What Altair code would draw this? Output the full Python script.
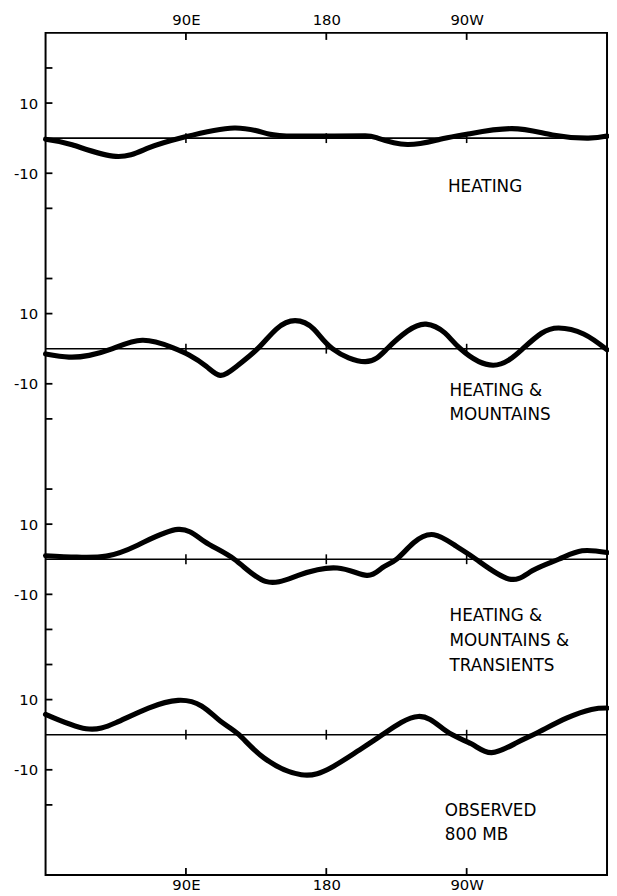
import altair as alt
import pandas as pd

# ---- data ----
panel_names = ["HEATING", "HEATING & MOUNTAINS", "HEATING & MOUNTAINS & TRANSIENTS", "OBSERVED 800 MB"]
offsets = [0, -60, -120, -170]          # vertical offset of each panel's zero line

p1_lon = [0, 17, 45, 66, 89, 121, 143, 160, 185, 205, 213, 232, 253, 270, 299, 325, 348, 360]
p1_val = [-0.3, -1.9, -5.2, -2.8, 0.3, 2.9, 1.2, 0.6, 0.6, 0.7, 0, -1.8, -0.3, 1.1, 2.7, 0.9, 0, 0.6]

p2_lon = [0, 15, 28, 43, 62, 81, 92, 103, 112, 122, 136, 148, 160, 172, 184, 205, 219, 232, 244, 256, 266, 287, 306, 318, 329, 345, 360]
p2_val = [-1.5, -2.4, -1.9, 0, 2.4, 0.4, -1.8, -5.0, -7.6, -5.2, 0, 5.6, 8.0, 5.6, 0, -3.7, 0, 5.0, 7.0, 4.5, 0, -4.7, 0, 4.4, 5.9, 4.2, -0.3]

p3_lon = [0, 20, 39, 59, 85, 102, 121, 141, 162, 187, 206, 216, 225, 236, 249, 263, 276, 297, 312, 329, 344, 360]
p3_val = [1.0, 0.6, 0.9, 4.0, 8.5, 5.0, 0, -6.3, -4.6, -2.5, -4.6, -2.4, 0, 4.7, 7.0, 3.8, 0, -5.6, -3.3, 0, 2.4, 1.9]

p4_lon = [0, 26, 45, 66, 85, 100, 112, 124, 140, 164, 183, 200, 216, 239, 257, 273, 286, 302, 315, 334, 350, 360]
p4_val = [5.8, 1.7, 3.4, 7.6, 9.8, 8.2, 3.9, 0, -6.6, -11.4, -9.4, -4.7, 0, 5.2, 1.0, -2.6, -5.1, -2.3, 0.5, 4.7, 7.2, 7.6]

lon_ticks = [90, 180, 270]
lon_labels = ["90E", "180", "90W"]
y_tick_steps = [20, 10, -10, -20]

label_lines = [
    ["HEATING"],
    ["HEATING &", "MOUNTAINS"],
    ["HEATING &", "MOUNTAINS &", "TRANSIENTS"],
    ["OBSERVED", "800 MB"],
]
label_dy = [[-14], [-12, -19], [-16.2, -23.2, -30.3], [-21.7, -28.7]]
label_lon = [258, 259, 259, 256]

Y_MIN, Y_MAX = -210, 30

# ---- tables ----
rows = []
for name, off, lons, vals in zip(panel_names, offsets,
                                 [p1_lon, p2_lon, p3_lon, p4_lon],
                                 [p1_val, p2_val, p3_val, p4_val]):
    for lo, v in zip(lons, vals):
        rows.append({"panel": name, "lon": lo, "y": v + off})
curves = pd.DataFrame(rows)

zero = pd.DataFrame({"panel": panel_names, "y": offsets, "x0": 0, "x1": 360})

zt = pd.DataFrame([{"lon": lo, "y": off - 1.4, "y2": off + 1.4} for off in offsets for lo in lon_ticks])
lt = pd.DataFrame([{"x0": 0, "x1": 4.4, "y": off + d} for off in offsets for d in y_tick_steps])
top_t = pd.DataFrame({"lon": lon_ticks, "y": Y_MAX, "y2": Y_MAX - 2})
bot_t = pd.DataFrame({"lon": lon_ticks, "y": Y_MIN, "y2": Y_MIN + 2})

txt = pd.DataFrame([{"lon": label_lon[i], "y": offsets[i] + dy, "text": t}
                    for i in range(4) for t, dy in zip(label_lines[i], label_dy[i])])

xs = alt.Scale(domain=[0, 360], nice=False, zero=False)
ys = alt.Scale(domain=[Y_MIN, Y_MAX], nice=False, zero=False)

lab_expr_x = "datum.value == 90 ? '90E' : (datum.value == 180 ? '180' : '90W')"
pos10 = [o + 10 for o in offsets]
lab_expr_y = "indexof(%s, datum.value) >= 0 ? '10' : '-10'" % str(pos10)
y_vals = sorted([o + d for o in offsets for d in [10, -10]], reverse=True)

FONT = "DejaVu Sans"

curve_layer = alt.Chart(curves).mark_line(color="black", strokeWidth=5.2, interpolate="natural",
                                          strokeCap="round", strokeJoin="round").encode(
    x=alt.X("lon:Q", scale=xs, axis=None),
    y=alt.Y("y:Q", scale=ys, axis=None),
    detail="panel:N",
)

zero_layer = alt.Chart(zero).mark_rule(color="black", strokeWidth=1.6).encode(
    x=alt.X("x0:Q", scale=xs, axis=None), x2="x1:Q",
    y=alt.Y("y:Q", scale=ys, axis=None),
)

zt_layer = alt.Chart(zt).mark_rule(color="black", strokeWidth=1.6).encode(
    x=alt.X("lon:Q", scale=xs, axis=None),
    y=alt.Y("y:Q", scale=ys, axis=None), y2="y2:Q",
)

left_layer = alt.Chart(lt).mark_rule(color="black", strokeWidth=1.8).encode(
    x=alt.X("x0:Q", scale=xs, axis=None), x2="x1:Q",
    y=alt.Y("y:Q", scale=ys, axis=alt.Axis(orient="left", values=y_vals, labelExpr=lab_expr_y,
                                           ticks=False, domain=False, grid=False, title=None,
                                           labelPadding=8, labelFontSize=15)),
)

top_layer = alt.Chart(top_t).mark_rule(color="black", strokeWidth=1.8).encode(
    x=alt.X("lon:Q", scale=xs, axis=alt.Axis(orient="top", values=lon_ticks, labelExpr=lab_expr_x,
                                             ticks=False, domain=False, grid=False, title=None,
                                             labelPadding=5, labelFontSize=15, labelFlush=False)),
    y=alt.Y("y:Q", scale=ys, axis=None), y2="y2:Q",
)

bot_layer = alt.Chart(bot_t).mark_rule(color="black", strokeWidth=1.8).encode(
    x=alt.X("lon:Q", scale=xs, axis=alt.Axis(orient="bottom", values=lon_ticks, labelExpr=lab_expr_x,
                                             ticks=False, domain=False, grid=False, title=None,
                                             labelPadding=3, labelFontSize=15, labelFlush=False)),
    y=alt.Y("y:Q", scale=ys, axis=None), y2="y2:Q",
)

text_layer = alt.Chart(txt).mark_text(align="left", baseline="middle", fontSize=17,
                                      font=FONT, color="black").encode(
    x=alt.X("lon:Q", scale=xs, axis=None),
    y=alt.Y("y:Q", scale=ys, axis=None),
    text="text:N",
)

chart = alt.layer(zero_layer, zt_layer, left_layer, top_layer, bot_layer, curve_layer, text_layer).resolve_axis(
    x="independent", y="independent"
).properties(
    width=568, height=852,
    autosize=alt.AutoSizeParams(type="none"),
    padding={"left": 38, "top": 20, "right": 2, "bottom": 16},
    background="white",
).configure_view(
    stroke="black", strokeWidth=2
).configure_axis(
    labelFont=FONT, labelColor="black"
)

chart.save("out.html", embed_options={"renderer": "svg", "actions": False})
